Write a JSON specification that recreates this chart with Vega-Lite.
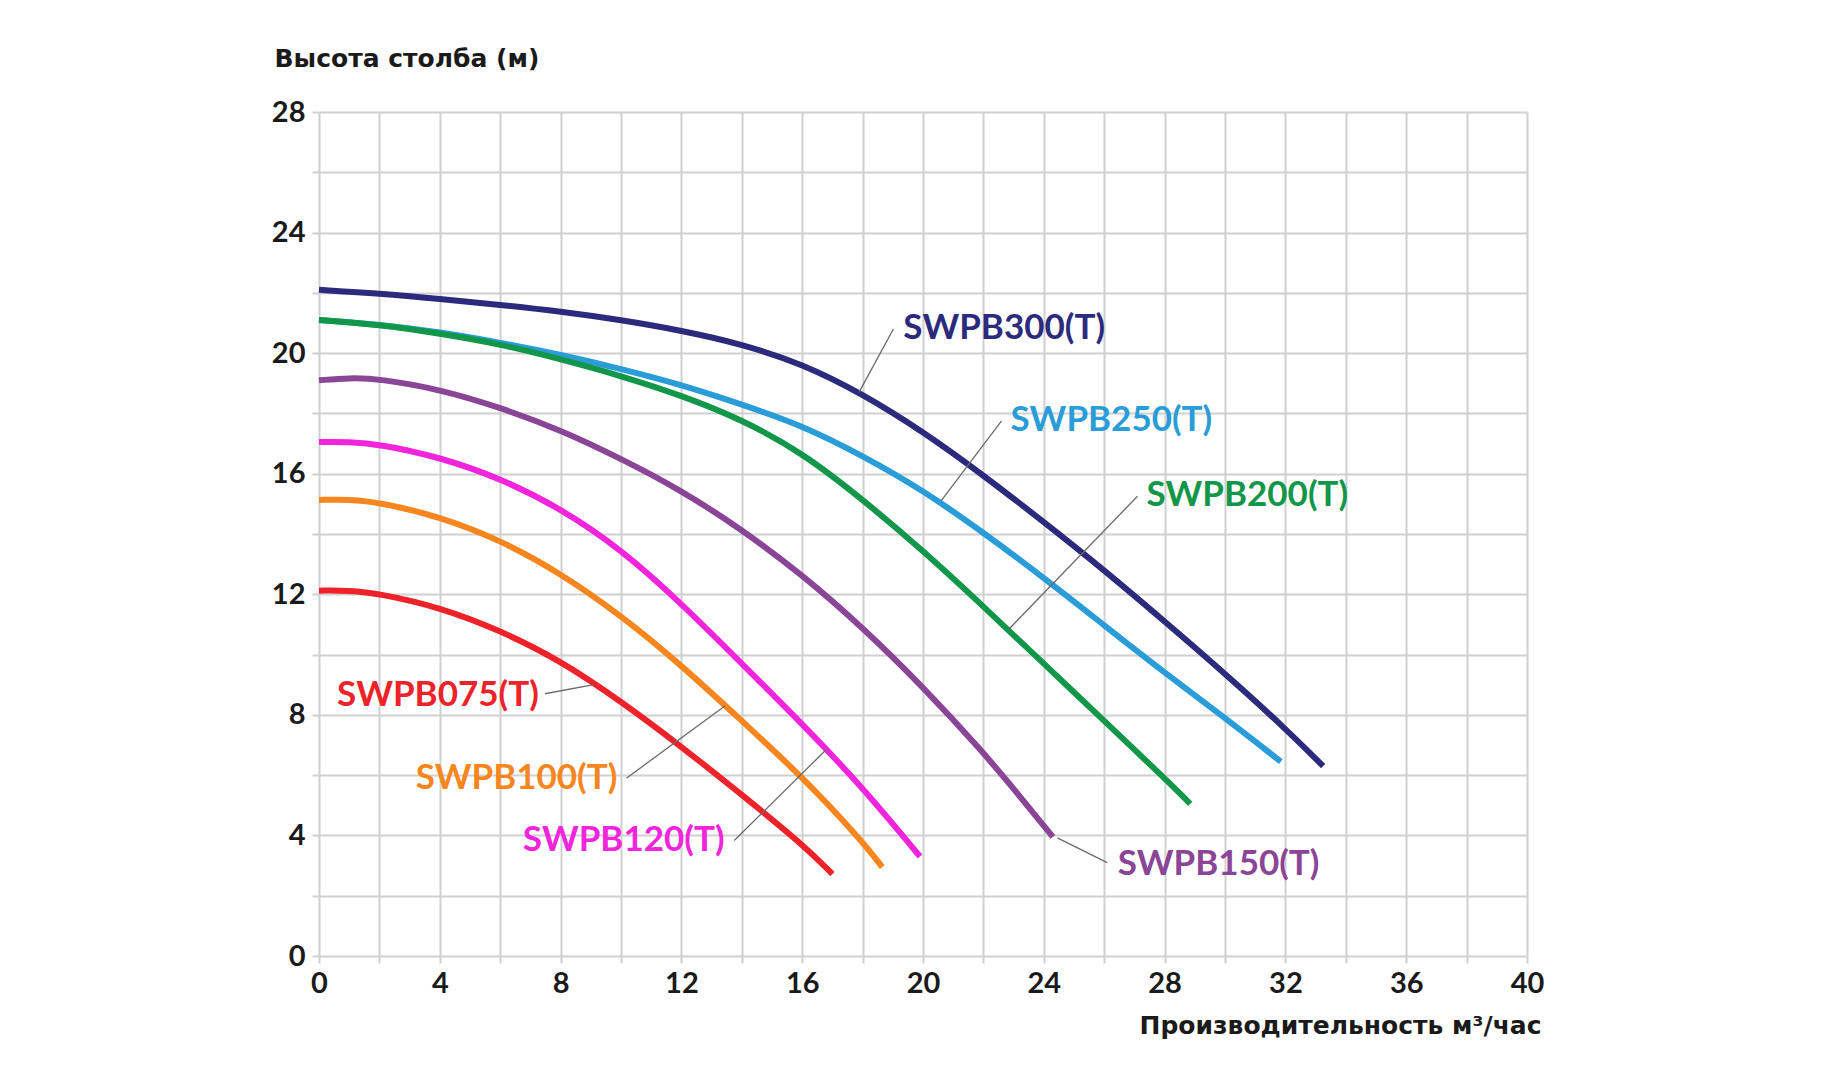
{
  "$schema": "https://vega.github.io/schema/vega-lite/v6.json",
  "description": "Pump head curves SWPB series",
  "width": 1208,
  "height": 844,
  "autosize": {"type": "none"},
  "padding": {"left": 319, "top": 112, "right": 297, "bottom": 124},
  "background": "white",
  "config": {
    "view": {"stroke": null},
    "font": "Lato",
    "axis": {
      "grid": true,
      "gridColor": "#d0d0d0",
      "gridWidth": 2,
      "domain": false,
      "tickColor": "#d0d0d0",
      "tickWidth": 2,
      "tickSize": 7,
      "labelFont": "Lato",
      "labelFontSize": 29,
      "labelFontWeight": "bold",
      "labelColor": "#1a1a1a",
      "labelOverlap": false,
      "labelFlush": false,
      "titleFont": "DejaVu Sans",
      "titleFontSize": 25,
      "titleFontWeight": "bold",
      "titleColor": "#1a1a1a"
    }
  },
  "datasets": {
    "curves": [
      {"model": "SWPB300(T)", "q": 0, "h": 22.1},
      {"model": "SWPB300(T)", "q": 2, "h": 21.98},
      {"model": "SWPB300(T)", "q": 4, "h": 21.8},
      {"model": "SWPB300(T)", "q": 6, "h": 21.6},
      {"model": "SWPB300(T)", "q": 8, "h": 21.38},
      {"model": "SWPB300(T)", "q": 10, "h": 21.1},
      {"model": "SWPB300(T)", "q": 12, "h": 20.75},
      {"model": "SWPB300(T)", "q": 14, "h": 20.3},
      {"model": "SWPB300(T)", "q": 16, "h": 19.65},
      {"model": "SWPB300(T)", "q": 18, "h": 18.65},
      {"model": "SWPB300(T)", "q": 20, "h": 17.4},
      {"model": "SWPB300(T)", "q": 22, "h": 15.95},
      {"model": "SWPB300(T)", "q": 24, "h": 14.4},
      {"model": "SWPB300(T)", "q": 26, "h": 12.8},
      {"model": "SWPB300(T)", "q": 28, "h": 11.1},
      {"model": "SWPB300(T)", "q": 30, "h": 9.37},
      {"model": "SWPB300(T)", "q": 32, "h": 7.55},
      {"model": "SWPB300(T)", "q": 33.25, "h": 6.3},

      {"model": "SWPB250(T)", "q": 0, "h": 21.1},
      {"model": "SWPB250(T)", "q": 2, "h": 20.95},
      {"model": "SWPB250(T)", "q": 4, "h": 20.7},
      {"model": "SWPB250(T)", "q": 6, "h": 20.35},
      {"model": "SWPB250(T)", "q": 8, "h": 19.95},
      {"model": "SWPB250(T)", "q": 10, "h": 19.48},
      {"model": "SWPB250(T)", "q": 12, "h": 18.95},
      {"model": "SWPB250(T)", "q": 14, "h": 18.3},
      {"model": "SWPB250(T)", "q": 16, "h": 17.6},
      {"model": "SWPB250(T)", "q": 18, "h": 16.6},
      {"model": "SWPB250(T)", "q": 20, "h": 15.45},
      {"model": "SWPB250(T)", "q": 22, "h": 14.05},
      {"model": "SWPB250(T)", "q": 24, "h": 12.55},
      {"model": "SWPB250(T)", "q": 26, "h": 10.97},
      {"model": "SWPB250(T)", "q": 28, "h": 9.4},
      {"model": "SWPB250(T)", "q": 30, "h": 7.9},
      {"model": "SWPB250(T)", "q": 31.85, "h": 6.45},

      {"model": "SWPB200(T)", "q": 0, "h": 21.1},
      {"model": "SWPB200(T)", "q": 2, "h": 20.95},
      {"model": "SWPB200(T)", "q": 4, "h": 20.65},
      {"model": "SWPB200(T)", "q": 6, "h": 20.3},
      {"model": "SWPB200(T)", "q": 8, "h": 19.8},
      {"model": "SWPB200(T)", "q": 10, "h": 19.25},
      {"model": "SWPB200(T)", "q": 12, "h": 18.6},
      {"model": "SWPB200(T)", "q": 14, "h": 17.8},
      {"model": "SWPB200(T)", "q": 16, "h": 16.7},
      {"model": "SWPB200(T)", "q": 18, "h": 15.15},
      {"model": "SWPB200(T)", "q": 20, "h": 13.45},
      {"model": "SWPB200(T)", "q": 22, "h": 11.6},
      {"model": "SWPB200(T)", "q": 24, "h": 9.7},
      {"model": "SWPB200(T)", "q": 26, "h": 7.8},
      {"model": "SWPB200(T)", "q": 28, "h": 5.9},
      {"model": "SWPB200(T)", "q": 28.85, "h": 5.05},

      {"model": "SWPB150(T)", "q": 0, "h": 19.1},
      {"model": "SWPB150(T)", "q": 1, "h": 19.18},
      {"model": "SWPB150(T)", "q": 2, "h": 19.15},
      {"model": "SWPB150(T)", "q": 4, "h": 18.8},
      {"model": "SWPB150(T)", "q": 6, "h": 18.2},
      {"model": "SWPB150(T)", "q": 8, "h": 17.45},
      {"model": "SWPB150(T)", "q": 10, "h": 16.5},
      {"model": "SWPB150(T)", "q": 12, "h": 15.45},
      {"model": "SWPB150(T)", "q": 14, "h": 14.15},
      {"model": "SWPB150(T)", "q": 16, "h": 12.65},
      {"model": "SWPB150(T)", "q": 18, "h": 10.9},
      {"model": "SWPB150(T)", "q": 20, "h": 8.93},
      {"model": "SWPB150(T)", "q": 22, "h": 6.75},
      {"model": "SWPB150(T)", "q": 23, "h": 5.55},
      {"model": "SWPB150(T)", "q": 24.3, "h": 3.95},

      {"model": "SWPB120(T)", "q": 0, "h": 17.05},
      {"model": "SWPB120(T)", "q": 1, "h": 17.06},
      {"model": "SWPB120(T)", "q": 2, "h": 16.98},
      {"model": "SWPB120(T)", "q": 4, "h": 16.55},
      {"model": "SWPB120(T)", "q": 6, "h": 15.85},
      {"model": "SWPB120(T)", "q": 8, "h": 14.85},
      {"model": "SWPB120(T)", "q": 10, "h": 13.5},
      {"model": "SWPB120(T)", "q": 12, "h": 11.7},
      {"model": "SWPB120(T)", "q": 14, "h": 9.7},
      {"model": "SWPB120(T)", "q": 16, "h": 7.7},
      {"model": "SWPB120(T)", "q": 18, "h": 5.6},
      {"model": "SWPB120(T)", "q": 19.9, "h": 3.3},

      {"model": "SWPB100(T)", "q": 0, "h": 15.13},
      {"model": "SWPB100(T)", "q": 1, "h": 15.15},
      {"model": "SWPB100(T)", "q": 2, "h": 15.05},
      {"model": "SWPB100(T)", "q": 4, "h": 14.58},
      {"model": "SWPB100(T)", "q": 6, "h": 13.8},
      {"model": "SWPB100(T)", "q": 8, "h": 12.7},
      {"model": "SWPB100(T)", "q": 10, "h": 11.3},
      {"model": "SWPB100(T)", "q": 12, "h": 9.65},
      {"model": "SWPB100(T)", "q": 14, "h": 7.8},
      {"model": "SWPB100(T)", "q": 16, "h": 5.95},
      {"model": "SWPB100(T)", "q": 18, "h": 3.8},
      {"model": "SWPB100(T)", "q": 18.65, "h": 2.95},

      {"model": "SWPB075(T)", "q": 0, "h": 12.12},
      {"model": "SWPB075(T)", "q": 1, "h": 12.13},
      {"model": "SWPB075(T)", "q": 2, "h": 12.02},
      {"model": "SWPB075(T)", "q": 4, "h": 11.57},
      {"model": "SWPB075(T)", "q": 6, "h": 10.8},
      {"model": "SWPB075(T)", "q": 8, "h": 9.8},
      {"model": "SWPB075(T)", "q": 10, "h": 8.45},
      {"model": "SWPB075(T)", "q": 12, "h": 6.95},
      {"model": "SWPB075(T)", "q": 14, "h": 5.35},
      {"model": "SWPB075(T)", "q": 16, "h": 3.72},
      {"model": "SWPB075(T)", "q": 17, "h": 2.72}
    ],
    "labels": [
      {"model": "SWPB300(T)", "q": 19.35, "h": 20.83},
      {"model": "SWPB250(T)", "q": 22.9, "h": 17.78},
      {"model": "SWPB200(T)", "q": 27.4, "h": 15.3},
      {"model": "SWPB150(T)", "q": 26.45, "h": 3.05},
      {"model": "SWPB075(T)", "q": 0.6, "h": 8.65},
      {"model": "SWPB100(T)", "q": 3.2, "h": 5.92},
      {"model": "SWPB120(T)", "q": 6.75, "h": 3.86}
    ],
    "leaders": [
      {"model": "SWPB300(T)", "q": 19.02, "h": 20.8, "q2": 17.88, "h2": 18.7},
      {"model": "SWPB250(T)", "q": 22.6, "h": 17.75, "q2": 20.6, "h2": 15.1},
      {"model": "SWPB200(T)", "q": 27.1, "h": 15.25, "q2": 22.85, "h2": 10.85},
      {"model": "SWPB150(T)", "q": 26.1, "h": 3.1, "q2": 24.45, "h2": 3.92},
      {"model": "SWPB075(T)", "q": 7.48, "h": 8.7, "q2": 9.1, "h2": 9.0},
      {"model": "SWPB100(T)", "q": 10.18, "h": 5.9, "q2": 13.45, "h2": 8.3},
      {"model": "SWPB120(T)", "q": 13.75, "h": 3.83, "q2": 16.8, "h2": 6.85}
    ]
  },
  "layer": [
    {
      "data": {"name": "curves"},
      "mark": {"type": "line", "interpolate": "basis", "strokeWidth": 6},
      "encoding": {
        "x": {
          "field": "q",
          "type": "quantitative",
          "scale": {"domain": [0, 40], "nice": false, "zero": false},
          "axis": {
            "values": [0, 2, 4, 6, 8, 10, 12, 14, 16, 18, 20, 22, 24, 26, 28, 30, 32, 34, 36, 38, 40],
            "labelExpr": "datum.value % 4 == 0 ? datum.label : ''",
            "labelPadding": 6,
            "title": "Производительность м³/час",
            "titleAlign": "right",
            "titleBaseline": "middle",
            "titleX": 1222,
            "titleY": 69
          }
        },
        "y": {
          "field": "h",
          "type": "quantitative",
          "scale": {"domain": [0, 28], "nice": false},
          "axis": {
            "values": [0, 2, 4, 6, 8, 10, 12, 14, 16, 18, 20, 22, 24, 26, 28],
            "labelExpr": "datum.value % 4 == 0 ? datum.label : ''",
            "labelPadding": 7,
            "title": "Высота столба (м)",
            "titleAngle": 0,
            "titleAlign": "left",
            "titleBaseline": "middle",
            "titleX": -45,
            "titleY": -54
          }
        },
        "color": {
          "field": "model",
          "type": "nominal",
          "scale": {
            "domain": ["SWPB075(T)", "SWPB100(T)", "SWPB120(T)", "SWPB150(T)", "SWPB200(T)", "SWPB250(T)", "SWPB300(T)"],
            "range": ["#ee2229", "#f7861f", "#f224dc", "#8a4597", "#12964a", "#2a9dd8", "#2c2a7c"]
          },
          "legend": null
        }
      }
    },
    {
      "data": {"name": "leaders"},
      "mark": {"type": "rule", "color": "#6a6a6a", "strokeWidth": 1.3},
      "encoding": {
        "x": {"field": "q", "type": "quantitative"},
        "y": {"field": "h", "type": "quantitative"},
        "x2": {"field": "q2"},
        "y2": {"field": "h2"}
      }
    },
    {
      "data": {"name": "labels"},
      "mark": {"type": "text", "align": "left", "baseline": "middle", "font": "Lato", "fontSize": 35, "fontWeight": "bold"},
      "encoding": {
        "x": {"field": "q", "type": "quantitative"},
        "y": {"field": "h", "type": "quantitative"},
        "text": {"field": "model"},
        "color": {"field": "model", "type": "nominal", "legend": null}
      }
    }
  ]
}
